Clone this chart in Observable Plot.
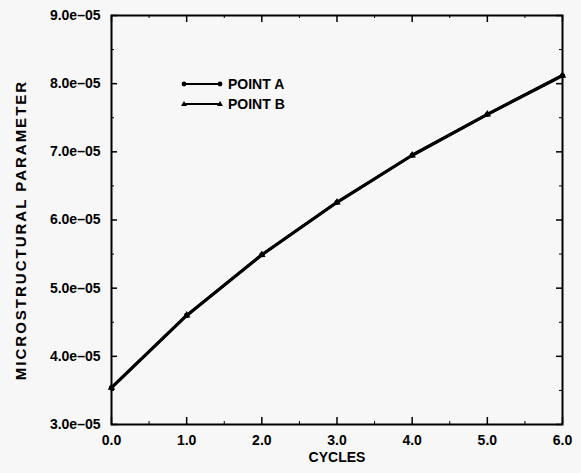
<!DOCTYPE html>
<html>
<head>
<meta charset="utf-8">
<script src="https://cdn.jsdelivr.net/npm/d3@7"></script>
<script src="https://cdn.jsdelivr.net/npm/@observablehq/plot@0.6"></script>
<style>
  html, body { margin: 0; padding: 0; background: #f7f7f7; }
  #wrap { position: relative; width: 581px; height: 473px; font-family: "Liberation Sans", Arial, sans-serif; }
  #wrap svg text { font-size: 14px !important; font-weight: bold !important; fill: black; }
  #wrap svg text.ytitle { font-size: 15px !important; letter-spacing: 2px; }
  #legend { position: absolute; left: 0; top: 0; pointer-events: none; }
</style>
</head>
<body>
<div id="wrap"></div>
<script>
// ---- data ----
const cycles = [0, 1, 2, 3, 4, 5, 6];
const pointA = [3.54e-5, 4.60e-5, 5.49e-5, 6.26e-5, 6.95e-5, 7.55e-5, 8.12e-5];
const pointB = [3.54e-5, 4.60e-5, 5.49e-5, 6.26e-5, 6.95e-5, 7.55e-5, 8.12e-5];
const seriesNames = ["POINT A", "POINT B"];
const xTicks = [0, 1, 2, 3, 4, 5, 6];
const xMinorTicks = [0.5, 1.5, 2.5, 3.5, 4.5, 5.5];
const yTicks = [3e-5, 4e-5, 5e-5, 6e-5, 7e-5, 8e-5, 9e-5];
const yMinorTicks = [3.5e-5, 4.5e-5, 5.5e-5, 6.5e-5, 7.5e-5, 8.5e-5];
const xTitle = "CYCLES";
const yTitle = "MICROSTRUCTURAL PARAMETER";

const rowsA = cycles.map((c, i) => ({x: c, y: pointA[i]}));
const rowsB = cycles.map((c, i) => ({x: c, y: pointB[i]}));

const W = 581, H = 473;
const m = {top: 15, right: 19, bottom: 49, left: 111};
const fw = W - m.left - m.right, fh = H - m.top - m.bottom;
const font = "Liberation Sans, Arial, sans-serif";

const chart = Plot.plot({
  width: W, height: H,
  marginTop: m.top, marginRight: m.right, marginBottom: m.bottom, marginLeft: m.left,
  style: {background: "#f7f7f7", fontFamily: font, fontWeight: "bold", fontSize: "14px", color: "black"},
  x: {domain: [0, 6]},
  y: {domain: [3e-5, 9e-5]},
  marks: [
    Plot.tickX(xTicks, {x: d => d, insetTop: fh - 7, stroke: "black", strokeWidth: 1.5}),
    Plot.tickX(xTicks, {x: d => d, insetBottom: fh - 7, stroke: "black", strokeWidth: 1.5}),
    Plot.tickX(xMinorTicks, {x: d => d, insetTop: fh - 3, stroke: "black", strokeWidth: 1}),
    Plot.tickX(xMinorTicks, {x: d => d, insetBottom: fh - 3, stroke: "black", strokeWidth: 1}),
    Plot.tickY(yTicks, {y: d => d, insetRight: fw - 6, stroke: "black", strokeWidth: 1.5}),
    Plot.tickY(yTicks, {y: d => d, insetLeft: fw - 6, stroke: "black", strokeWidth: 1.5}),
    Plot.tickY(yMinorTicks, {y: d => d, insetRight: fw - 3, stroke: "black", strokeWidth: 1}),
    Plot.tickY(yMinorTicks, {y: d => d, insetLeft: fw - 3, stroke: "black", strokeWidth: 1}),
    Plot.axisX(xTicks, {tickSize: 0, tickPadding: 11, tickFormat: d => d.toFixed(1), label: null}),
    Plot.axisY(yTicks, {tickSize: 0, tickPadding: 11, tickFormat: d => (d / 1e-5).toFixed(1) + "e\u201305", label: null}),
    Plot.line(rowsA, {x: "x", y: "y", stroke: "black", strokeWidth: 3.2}),
    Plot.line(rowsB, {x: "x", y: "y", stroke: "black", strokeWidth: 2.6}),
    Plot.dot(rowsA, {x: "x", y: "y", r: 2.6, fill: "black", symbol: "circle"}),
    Plot.dot(rowsB, {x: "x", y: "y", r: 2.8, fill: "black", symbol: "triangle"}),
    Plot.frame({stroke: "black", strokeWidth: 2}),
    Plot.text([xTitle], {text: d => d, frameAnchor: "bottom", lineAnchor: "middle", dy: 33, fill: "black"}),
    Plot.text([yTitle], {text: d => d, frameAnchor: "left", textAnchor: "middle", lineAnchor: "middle", dx: -90, dy: 10, rotate: -90, fill: "black"})
  ]
});

const wrap = document.getElementById("wrap");
wrap.appendChild(chart);
chart.querySelectorAll("text").forEach(t => { if (t.textContent === yTitle) t.classList.add("ytitle"); });

// legend overlay
const ns = "http://www.w3.org/2000/svg";
const leg = document.createElementNS(ns, "svg");
leg.setAttribute("id", "legend");
leg.setAttribute("width", W);
leg.setAttribute("height", H);
const entries = [
  {name: seriesNames[0], y: 84, sym: "circle"},
  {name: seriesNames[1], y: 104, sym: "triangle"}
];
entries.forEach(e => {
  const ln = document.createElementNS(ns, "line");
  ln.setAttribute("x1", 184); ln.setAttribute("x2", 220);
  ln.setAttribute("y1", e.y); ln.setAttribute("y2", e.y);
  ln.setAttribute("stroke", "black"); ln.setAttribute("stroke-width", 2);
  leg.appendChild(ln);
  [184, 220].forEach(cx => {
    if (e.sym === "circle") {
      const c = document.createElementNS(ns, "circle");
      c.setAttribute("cx", cx); c.setAttribute("cy", e.y); c.setAttribute("r", 2.4);
      leg.appendChild(c);
    } else {
      const p = document.createElementNS(ns, "path");
      p.setAttribute("d", `M${cx},${e.y - 3}L${cx + 3},${e.y + 2}L${cx - 3},${e.y + 2}Z`);
      leg.appendChild(p);
    }
  });
  const t = document.createElementNS(ns, "text");
  t.setAttribute("x", 228); t.setAttribute("y", e.y + 5);
  t.setAttribute("font-family", font);
  t.textContent = e.name;
  leg.appendChild(t);
});
wrap.appendChild(leg);
</script>
</body>
</html>
